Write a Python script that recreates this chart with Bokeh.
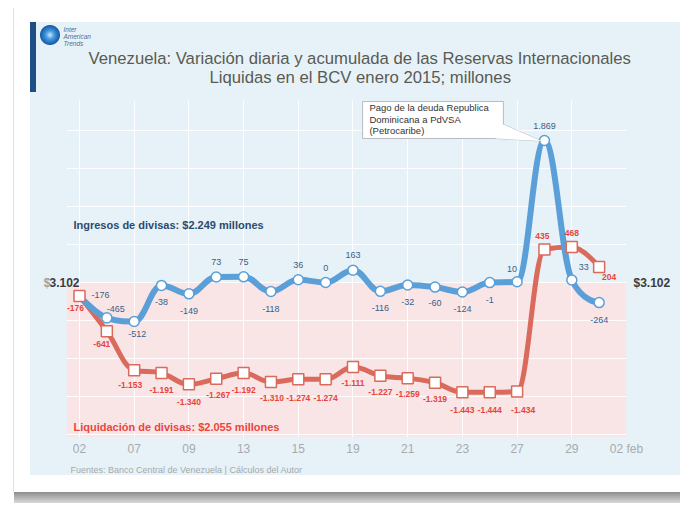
from bokeh.plotting import figure
from bokeh.models import (Range1d, FixedTicker, Label, BoxAnnotation, Title,
                          ColumnDataSource, LinearAxis)
from bokeh.core.properties import value
from bokeh.embed import file_html
from bokeh.resources import INLINE

# ---------------- data ----------------
tick_labels = ["02", "07", "09", "13", "15", "19", "21", "23", "27", "29", "02 feb"]
# daily variation (Ingresos de divisas), millions USD
ingresos = [-176, -465, -512, -38, -149, 73, 75, -118, 36, 0, 163,
            -116, -32, -60, -124, -1, 10, 1869, 33, -264]
# cumulative variation (Liquidación de divisas), millions USD
acumulado = [-176, -641, -1153, -1191, -1340, -1267, -1192, -1310, -1274, -1274,
             -1111, -1227, -1259, -1319, -1443, -1444, -1434, 435, 468, 204]
base_label = "$3.102"
title1 = "Venezuela: Variación diaria y acumulada de las Reservas Internacionales"
title2 = "Liquidas en el BCV enero 2015; millones"
ingresos_text = "Ingresos de divisas: $2.249 millones"
liquid_text = "Liquidación de divisas: $2.055 millones"
callout_lines = ["Pago de la deuda Republica", "Dominicana a  PdVSA", "(Petrocaribe)"]
source_text = "Fuentes: Banco Central de Venezuela | Cálculos del Autor"
logo_text = "Inter\nAmerican\nTrends"

# label placement offsets (pixels) – styling only
blue_dx = [21, 9, 3, 0, 0, 0, 0, 0, 0, 0, 0, 0, 0, 0, 0, 0, -5, 0, 12, 0]
blue_dy = [-1, -9, 13, 17, 17, -15, -15, 18, -15, -15, -15, 17, 17, 16, 17, 17, -13, -14, -13, 17]
red_dx = [-4, -5, -4, 0, 0, 2, 0, 1, 0, 0, 0, 0, 0, 0, 0, 0, 6, -2, 0, 10]
red_dy = [12, 13, 15, 17, 18, 16, 17, 16, 19, 19, 16, 16, 16, 16, 18, 18, 18, -13, -14, 10]

# ---------------- styles ----------------
BG = "#e6f2f8"
PINK = "#f9e5e5"
BLUE = "#5b9fd8"
RED = "#da6a5c"
BLUE_TXT = "#3d5d86"
RED_TXT = "#e8443a"
FONT = "Liberation Sans"

CARD_CSS = (
    "linear-gradient(#1d4e86,#1d4e86) 30px 22px / 6px 70px no-repeat, "
    "radial-gradient(circle at 50px 35px, #cfeafc 0px, #4a9de0 4px, #2a78c4 7px, #1a5ea8 9.5px, rgba(0,0,0,0) 10.5px) 0 0 / 100% 100% no-repeat, "
    "linear-gradient(#e6f2f8,#e6f2f8) 30px 22px / 650px 453px no-repeat, "
    "linear-gradient(#8e8e8e,#d8d8d8) 14px 492px / 668px 11px no-repeat, "
    "linear-gradient(#e2e2e2,#e2e2e2) 13px 8px / 1px 484px no-repeat, "
    "#ffffff"
)


def fmt(v):
    return f"{v:,}".replace(",", ".")


def spline(xs, ys, smoothing=1.5):
    n = len(xs)
    left = [(xs[i], ys[i]) for i in range(n)]
    right = [(xs[i], ys[i]) for i in range(n)]
    d = smoothing + 1
    for i in range(1, n - 1):
        px, py = xs[i], ys[i]
        lx, ly = xs[i - 1], ys[i - 1]
        nx, ny = xs[i + 1], ys[i + 1]
        lcx, lcy = (smoothing * px + lx) / d, (smoothing * py + ly) / d
        rcx, rcy = (smoothing * px + nx) / d, (smoothing * py + ny) / d
        corr = 0.0
        if rcx != lcx:
            corr = (rcy - lcy) * (rcx - px) / (rcx - lcx) + py - rcy
        lcy += corr
        rcy += corr
        if lcy > ly and lcy > py:
            lcy = max(ly, py); rcy = 2 * py - lcy
        elif lcy < ly and lcy < py:
            lcy = min(ly, py); rcy = 2 * py - lcy
        if rcy > ny and rcy > py:
            rcy = max(ny, py); lcy = 2 * py - rcy
        elif rcy < ny and rcy < py:
            rcy = min(ny, py); lcy = 2 * py - rcy
        left[i] = (lcx, lcy)
        right[i] = (rcx, rcy)
    seg = dict(x0=[], y0=[], x1=[], y1=[], cx0=[], cy0=[], cx1=[], cy1=[])
    for i in range(n - 1):
        seg["x0"].append(xs[i]); seg["y0"].append(ys[i])
        seg["x1"].append(xs[i + 1]); seg["y1"].append(ys[i + 1])
        seg["cx0"].append(right[i][0]); seg["cy0"].append(right[i][1])
        seg["cx1"].append(left[i + 1][0]); seg["cy1"].append(left[i + 1][1])
    return seg


def axis_style(ax, standoff, color, text):
    ax.ticker = FixedTicker(ticks=[0])
    ax.major_label_overrides = {0: text}
    ax.axis_line_color = None
    ax.major_tick_line_color = None
    ax.minor_tick_line_color = None
    ax.major_tick_out = 0
    ax.major_tick_in = 0
    ax.major_label_standoff = standoff
    ax.major_label_text_font = FONT
    ax.major_label_text_font_style = "bold"
    ax.major_label_text_font_size = "12px"
    ax.major_label_text_color = color


idx = list(range(len(ingresos)))
tick_pos = list(range(0, 2 * len(tick_labels), 2))

p = figure(width=680, height=503,
           x_range=Range1d(-0.475, tick_pos[-1]), y_range=Range1d(-2039, 2395),
           output_backend="svg", toolbar_location=None, y_axis_location="left",
           min_border_left=66, min_border_right=54, min_border_top=100, min_border_bottom=66,
           background_fill_color=BG, border_fill_color=None, outline_line_color=None,
           styles={"background": CARD_CSS})

# x axis
p.xaxis.ticker = FixedTicker(ticks=tick_pos)
p.xaxis.major_label_overrides = {t: l for t, l in zip(tick_pos, tick_labels)}
p.xaxis.axis_line_color = None
p.xaxis.major_tick_line_color = None
p.xaxis.minor_tick_line_color = None
p.xaxis.major_tick_out = 0
p.xaxis.major_label_standoff = 4
p.xaxis.major_label_text_font = FONT
p.xaxis.major_label_text_font_size = "12px"
p.xaxis.major_label_text_color = "#a8aaac"

# base level axes ($3.102 on both sides)
axis_style(p.yaxis[0], -13, "#3a3d40", base_label[1:])
p.add_layout(LinearAxis(), "left")
axis_style(p.left[-1], -4, "#a0a0a0", base_label[0])
p.add_layout(LinearAxis(), "right")
axis_style(p.right[-1], 7, "#3a3d40", base_label)

p.xgrid.ticker = FixedTicker(ticks=tick_pos)
p.ygrid.ticker = FixedTicker(ticks=list(range(-2000, 2001, 500)))
p.xgrid.grid_line_color = "white"
p.ygrid.grid_line_color = "white"
p.xgrid.grid_line_alpha = 0.9
p.ygrid.grid_line_alpha = 0.9

# titles
p.add_layout(Title(text=title2, align="left", offset=143, standoff=27,
                   text_font=FONT, text_font_size="16.7px", text_font_style="normal",
                   text_color="#5a5a52"), "above")
p.add_layout(Title(text=title1, align="left", offset=22, standoff=-31,
                   text_font=FONT, text_font_size="16.7px", text_font_style="normal",
                   text_color="#5a5a52"), "above")
p.add_layout(Title(text=logo_text, align="left", offset=-3, standoff=12,
                   text_font=FONT, text_font_size="6.5px", text_font_style="italic",
                   text_color="#54708f", text_line_height=1.0), "above")
p.add_layout(Title(text=source_text, align="left", offset=4, standoff=9,
                   text_font=FONT, text_font_size="9px", text_font_style="normal",
                   text_color="#a6a8aa"), "below")

# pink region below the base level
p.add_layout(BoxAnnotation(top=0, fill_color=PINK, fill_alpha=1, line_color=None, level="image"))

# lines
rs = spline(idx, acumulado)
p.bezier(source=ColumnDataSource(rs), x0="x0", y0="y0", x1="x1", y1="y1",
         cx0="cx0", cy0="cy0", cx1="cx1", cy1="cy1", line_color=RED, line_width=5,
         line_cap="round")
bs = spline(idx, ingresos)
p.bezier(source=ColumnDataSource(bs), x0="x0", y0="y0", x1="x1", y1="y1",
         cx0="cx0", cy0="cy0", cx1="cx1", cy1="cy1", line_color=BLUE, line_width=6,
         line_cap="round")

p.scatter(idx, ingresos, marker="circle", size=10, fill_color="white",
          line_color=BLUE, line_width=1.5)
p.scatter(idx, acumulado, marker="square", size=11, fill_color="white",
          line_color=RED, line_width=1.5)

# data labels
p.text(x=idx, y=ingresos, text=[fmt(v) for v in ingresos], x_offset=blue_dx, y_offset=blue_dy,
       text_align="center", text_baseline="middle", text_font=value(FONT),
       text_font_size="9px", text_color=BLUE_TXT)
p.text(x=idx, y=acumulado, text=[fmt(v) for v in acumulado], x_offset=red_dx, y_offset=red_dy,
       text_align="center", text_baseline="middle", text_font=value(FONT),
       text_font_size="8.5px", text_font_style="bold", text_color=RED_TXT)

# series captions
p.add_layout(Label(x=-0.22, y=763, text=ingresos_text, text_font=FONT, text_font_size="11px",
                   text_font_style="bold", text_color="#2c4a6e", text_baseline="middle"))
p.add_layout(Label(x=-0.22, y=-1907, text=liquid_text, text_font=FONT, text_font_size="11px",
                   text_font_style="bold", text_color="#e8473f", text_baseline="middle"))

# callout
tri_x = [15.50, 15.21, 16.88]
tri_y = [2079, 1895, 1862]
p.patch(tri_x, tri_y, fill_color="white", line_color="#b8bcc0", line_width=1)
p.quad(left=[10.35], right=[15.50], top=[2382], bottom=[1895], fill_color="white",
       line_color="#b8bcc0", line_width=1)
p.patch(tri_x, tri_y, fill_color="white", line_color=None)
for k, line in enumerate(callout_lines):
    p.add_layout(Label(x=10.6, y=2300 - k * 152, text=line, text_font=FONT,
                       text_font_size="9.5px", text_color="#333333", text_baseline="middle"))

open("out.html", "w").write(file_html(p, INLINE))
